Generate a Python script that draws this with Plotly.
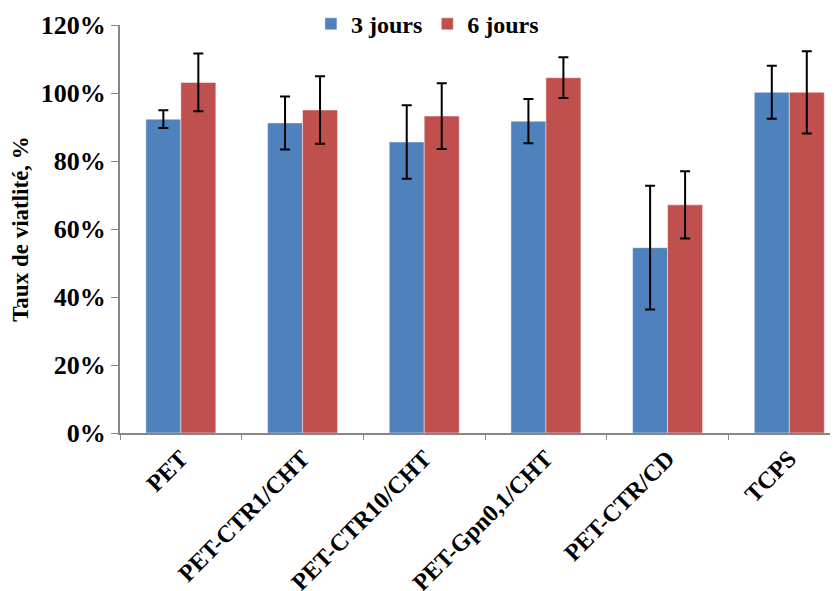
import plotly.graph_objects as go

categories = ["PET", "PET-CTR1/CHT", "PET-CTR10/CHT", "PET-Gpn0,1/CHT", "PET-CTR/CD", "TCPS"]
jours3 = [0.923, 0.912, 0.856, 0.917, 0.545, 1.002]
jours3_err = [0.026, 0.078, 0.108, 0.065, 0.182, 0.078]
jours6 = [1.031, 0.950, 0.932, 1.045, 0.671, 1.002]
jours6_err = [0.085, 0.099, 0.097, 0.060, 0.099, 0.121]
series_names = ["3 jours", "6 jours"]
colors = ["#4F81BD", "#C0504D"]

font_family = "Liberation Serif, Times New Roman, serif"

fig = go.Figure()
for name, vals, errs, col in zip(series_names, [jours3, jours6], [jours3_err, jours6_err], colors):
    fig.add_trace(go.Bar(
        x=categories, y=vals, name=name,
        marker=dict(color=col, line=dict(color="rgba(255,255,255,0.45)", width=1)),
        error_y=dict(type="data", array=errs, visible=True, color="black", thickness=2, width=5),
    ))

fig.update_layout(
    width=838, height=591,
    margin=dict(l=112, r=0, t=17, b=165.5, autoexpand=False),
    paper_bgcolor="white", plot_bgcolor="white",
    barmode="group", bargap=0.425, bargroupgap=0,
    font=dict(family=font_family, color="black"),
    legend=dict(orientation="h", x=0.263, xanchor="left", y=1.057, yanchor="top",
                font=dict(size=24, weight="bold", family=font_family),
                itemwidth=30, tracegroupgap=0,
                bgcolor="rgba(0,0,0,0)"),
    showlegend=True,
)
fig.update_xaxes(
    type="category", range=[-0.5, 5.466], automargin=False,
    showline=True, linecolor="#868686", linewidth=2,
    ticks="outside", tickson="boundaries", ticklen=5, tickcolor="#868686", tickwidth=1,
    tickangle=-45, tickfont=dict(size=24, weight="bold", family=font_family, color="black"),
    showgrid=False,
)
fig.update_yaxes(
    range=[0, 1.2], dtick=0.2, tickformat=".0%", automargin=False,
    showline=True, linecolor="#868686", linewidth=2,
    ticks="outside", ticklen=7, tickcolor="#868686", tickwidth=1,
    tickfont=dict(size=26, weight="bold", family=font_family, color="black"),
    showgrid=False, zeroline=False,
    title=dict(text="Taux de viatlité, %", font=dict(size=23, weight="bold", family=font_family), standoff=6),
)

fig.write_html("out.html")
